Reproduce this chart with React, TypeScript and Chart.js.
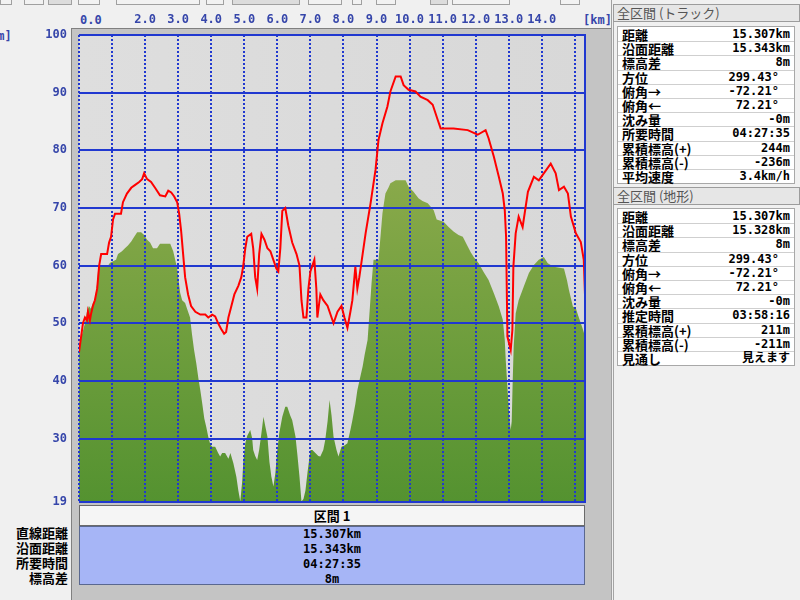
import React, { useEffect, useRef } from "react";
import { Chart, registerables } from "chart.js";
Chart.register(...registerables);

// ---- data (distance km / elevation m) ----
const trackKm = [0.0, 0.06, 0.12, 0.18, 0.24, 0.27, 0.33, 0.36, 0.42, 0.48, 0.55, 0.61, 0.67, 0.85, 0.91, 0.97, 1.03, 1.09, 1.27, 1.33, 1.45, 1.58, 1.7, 1.82, 1.91, 1.97, 2.06, 2.18, 2.3, 2.45, 2.61, 2.7, 2.79, 2.88, 2.97, 3.03, 3.09, 3.15, 3.21, 3.3, 3.39, 3.52, 3.67, 3.82, 3.91, 4.03, 4.12, 4.21, 4.3, 4.39, 4.45, 4.52, 4.61, 4.7, 4.82, 4.91, 4.97, 5.03, 5.09, 5.21, 5.27, 5.33, 5.39, 5.45, 5.52, 5.61, 5.7, 5.79, 5.88, 5.97, 6.03, 6.09, 6.15, 6.24, 6.33, 6.45, 6.58, 6.67, 6.73, 6.79, 6.88, 6.94, 7.0, 7.06, 7.12, 7.18, 7.21, 7.3, 7.39, 7.52, 7.64, 7.7, 7.82, 7.94, 8.03, 8.12, 8.21, 8.27, 8.36, 8.42, 8.48, 8.58, 8.67, 8.82, 8.97, 9.06, 9.18, 9.33, 9.42, 9.58, 9.73, 9.82, 9.97, 10.18, 10.33, 10.55, 10.7, 10.85, 10.94, 11.33, 11.76, 12.06, 12.3, 12.39, 12.55, 12.7, 12.82, 12.88, 12.92, 12.96, 13.06, 13.11, 13.14, 13.21, 13.3, 13.42, 13.58, 13.76, 13.91, 14.06, 14.27, 14.42, 14.52, 14.67, 14.79, 14.88, 15.03, 15.18, 15.27, 15.307];
const trackElev = [45, 47.5, 50, 51, 50.5, 52, 50.5, 51.5, 53, 54, 56, 60, 62, 62, 64, 65, 68, 69, 69, 71, 72.5, 73.5, 74, 74.5, 75, 76, 75, 74.5, 73.5, 72.2, 72, 73, 72.7, 72, 71, 69, 66, 62, 58, 55, 53, 52, 51.5, 51.5, 51, 51.5, 51.2, 50, 49, 48.2, 48.5, 51, 53, 55, 56.5, 58, 60, 63, 65, 65.5, 63, 58, 56, 62, 65.5, 64.5, 63, 62.5, 61, 59.5, 59, 63, 69.5, 70, 67, 64, 62, 60, 54, 51, 51, 56, 59, 60, 61, 56, 51, 55, 54, 53, 51, 50, 52, 53, 51, 49.2, 52, 54, 59.8, 56, 58, 62, 65.6, 70.8, 76.6, 81.8, 84.7, 87.6, 90.2, 92.8, 92.8, 91.3, 90.5, 90.2, 89.3, 88.7, 87.9, 85.3, 83.8, 83.8, 83.5, 82.7, 83.5, 82.1, 78.9, 75.4, 72.5, 69.6, 65, 47.7, 45.4, 48.8, 59.8, 65.6, 68.5, 66.7, 72.8, 75.4, 74.8, 76, 77.7, 76, 73.1, 73.7, 72.5, 68.5, 65.6, 64.1, 61, 55];

const terrainKm = [0.0, 0.09, 0.18, 0.24, 0.3, 0.36, 0.42, 0.48, 0.55, 0.58, 0.64, 0.88, 0.94, 1.12, 1.18, 1.3, 1.39, 1.48, 1.58, 1.67, 1.76, 1.88, 1.97, 2.06, 2.15, 2.24, 2.36, 2.45, 2.76, 2.85, 2.91, 2.97, 3.06, 3.12, 3.21, 3.3, 3.36, 3.42, 3.48, 3.55, 3.61, 3.67, 3.73, 3.79, 3.85, 3.91, 3.97, 4.03, 4.12, 4.21, 4.27, 4.33, 4.42, 4.52, 4.58, 4.67, 4.76, 4.82, 4.88, 4.94, 4.97, 5.03, 5.09, 5.18, 5.24, 5.27, 5.33, 5.39, 5.45, 5.52, 5.58, 5.64, 5.7, 5.76, 5.82, 5.88, 5.94, 6.0, 6.06, 6.15, 6.24, 6.3, 6.39, 6.45, 6.55, 6.61, 6.67, 6.73, 6.79, 6.85, 6.91, 7.0, 7.06, 7.15, 7.24, 7.3, 7.39, 7.45, 7.52, 7.58, 7.64, 7.7, 7.79, 7.85, 7.94, 8.03, 8.12, 8.21, 8.27, 8.36, 8.42, 8.52, 8.58, 8.64, 8.73, 8.79, 8.85, 8.91, 9.06, 9.12, 9.18, 9.27, 9.36, 9.42, 9.58, 9.88, 9.97, 10.12, 10.27, 10.39, 10.55, 10.73, 10.82, 11.03, 11.18, 11.33, 11.48, 11.61, 11.76, 11.85, 11.94, 12.09, 12.24, 12.39, 12.55, 12.7, 12.82, 12.88, 12.91, 12.97, 13.03, 13.06, 13.09, 13.12, 13.15, 13.21, 13.3, 13.45, 13.61, 13.76, 13.91, 14.06, 14.18, 14.36, 14.67, 14.76, 14.82, 14.94, 15.03, 15.09, 15.18, 15.24, 15.307];
const terrainElev = [46, 48, 50, 52, 53, 52.5, 53.5, 54, 57, 59.5, 60, 60, 60.5, 61, 62, 62.5, 63, 63.5, 64.2, 65, 65.8, 65.8, 65.3, 64.5, 64, 63, 63, 63.8, 63.8, 62.5, 61, 59.5, 55.3, 54, 53.5, 52, 51, 48, 45.4, 43, 40.5, 38.4, 36, 33.5, 32, 30.3, 29, 28.6, 28.6, 27.5, 26.9, 27.5, 27.5, 26.5, 27.5, 25.7, 23.4, 21, 19.1, 22.8, 26, 29.2, 30.5, 31.5, 30, 28, 27, 26.3, 28, 31, 33.8, 32, 30.3, 26, 23.4, 21.7, 24, 28, 31, 33.8, 35.5, 35.5, 34, 33.2, 30.3, 27, 23.4, 19.1, 19.5, 21, 24, 28, 28, 27.5, 27, 26.9, 28, 29.8, 33, 36.7, 34, 30.3, 28, 26.9, 28.6, 28.8, 29.2, 31.5, 33.2, 36, 38.4, 41, 42.5, 44.5, 47.1, 52, 57, 61, 61, 65, 69.1, 72.5, 73.5, 74.3, 74.8, 74.8, 73.7, 72.8, 71.7, 71.2, 70.8, 69.6, 68, 67.6, 66.7, 65.9, 65.3, 65, 63.3, 62.3, 61.5, 60.4, 58.9, 57.5, 55.2, 52.9, 50.6, 47.1, 43.6, 38, 33, 31.5, 33, 40, 46, 51.7, 54, 56.3, 58.7, 60.1, 61, 61.5, 60.4, 59.8, 59.5, 57.5, 55.8, 52.9, 52.6, 51.5, 50, 49, 47.7];

const xTicks = [0, 1, 2, 3, 4, 5, 6, 7, 8, 9, 10, 11, 12, 13, 14, 15];
const xLabelled = [2, 3, 4, 5, 6, 7, 8, 9, 10, 11, 12, 13, 14];
const yTicks = [19, 30, 40, 50, 60, 70, 80, 90, 100];
const xMax = 15.307;

const trackTitle = "全区間 (トラック)";
const trackLabels = ["距離", "沿面距離", "標高差", "方位", "俯角→", "俯角←", "沈み量", "所要時間", "累積標高(+)", "累積標高(-)", "平均速度"];
const trackValues = ["15.307km", "15.343km", "8m", "299.43°", "-72.21°", "72.21°", "-0m", "04:27:35", "244m", "-236m", "3.4km/h"];
const terrainTitle = "全区間 (地形)";
const terrainLabels = ["距離", "沿面距離", "標高差", "方位", "俯角→", "俯角←", "沈み量", "推定時間", "累積標高(+)", "累積標高(-)", "見通し"];
const terrainValues = ["15.307km", "15.328km", "8m", "299.43°", "-72.21°", "72.21°", "-0m", "03:58:16", "211m", "-211m", "見えます"];
const sectionTitle = "区間 1";
const sectionLabels = ["直線距離", "沿面距離", "所要時間", "標高差"];
const sectionValues = ["15.307km", "15.343km", "04:27:35", "8m"];

const BLUE = "#2038d0";
const TICK_BLUE = "#3646aa";
const MONO = '"DejaVu Sans Mono", "Noto Sans CJK JP", monospace';
const JP = '"Noto Sans CJK JP", sans-serif';

function InfoTable(props: { top: number; title: string; labels: string[]; values: string[]; titleTop: number }) {
  const rowH = 14.2;
  return (
    <>
      <div
        style={{
          position: "absolute",
          left: 613,
          top: props.titleTop,
          width: 182,
          height: 16,
          background: "#e6e6e6",
          border: "1px solid #9c9c9c",
          color: "#555",
          font: '13px "Noto Sans CJK JP", sans-serif',
          lineHeight: "16px",
          paddingLeft: 3,
          boxSizing: "content-box",
        }}
      >
        {props.title}
      </div>
      <div
        style={{
          position: "absolute",
          left: 617,
          top: props.top,
          width: 176,
          background: "#fff",
          border: "1px solid #a8a8a8",
        }}
      >
        {props.labels.map((l, i) => (
          <div
            key={i}
            style={{
              height: rowH,
              boxSizing: "border-box",
              borderTop: i ? "1px solid #cfcfcf" : "none",
              display: "flex",
              justifyContent: "space-between",
              alignItems: "center",
              padding: "0 4px",
              paddingRight: props.values[i].indexOf("°") >= 0 ? 15 : 4,
              color: "#000",
              lineHeight: "13px",
              whiteSpace: "nowrap",
            }}
          >
            <span style={{ font: "bold 13px " + JP, lineHeight: "13px" }}>{l}</span>
            <span style={{ font: "bold 12px " + MONO, lineHeight: "13px" }}>{props.values[i]}</span>
          </div>
        ))}
      </div>
    </>
  );
}

export default function App() {
  const ref = useRef<HTMLCanvasElement | null>(null);

  useEffect(() => {
    const canvas = ref.current;
    if (!canvas) return;
    const rightBorder = {
      id: "rightBorder",
      afterDraw(chart: any) {
        const a = chart.chartArea;
        const ctx = chart.ctx;
        ctx.save();
        ctx.strokeStyle = BLUE;
        ctx.lineWidth = 2;
        ctx.beginPath();
        ctx.moveTo(a.right, a.top - 1);
        ctx.lineTo(a.right, a.bottom + 1);
        ctx.stroke();
        ctx.restore();
      },
    };
    const chart = new Chart(canvas, {
      type: "line",
      data: {
        datasets: [
          {
            label: "track",
            data: trackKm.map((x, i) => ({ x, y: trackElev[i] })),
            borderColor: "#ff0000",
            borderWidth: 2,
            pointRadius: 0,
            fill: false,
            tension: 0,
            order: 0,
          },
          {
            label: "terrain",
            data: terrainKm.map((x, i) => ({ x, y: terrainElev[i] })),
            borderColor: "rgba(0,0,0,0)",
            borderWidth: 0,
            pointRadius: 0,
            fill: "start",
            tension: 0,
            order: 1,
            backgroundColor: (c: any) => {
              const area = c.chart.chartArea;
              if (!area) return "#6a9a3a";
              const g = c.chart.ctx.createLinearGradient(0, area.top + 120, 0, area.bottom);
              g.addColorStop(0, "#8dab4c");
              g.addColorStop(1, "#549230");
              return g;
            },
          },
        ],
      },
      options: {
        animation: false,
        responsive: false,
        maintainAspectRatio: false,
        events: [],
        layout: { padding: { left: 0, top: 0, right: 215, bottom: 98 } },
        plugins: {
          legend: { display: false },
          tooltip: { enabled: false },
          filler: { drawTime: "beforeDraw" },
        } as any,
        scales: {
          x: {
            type: "linear",
            position: "top",
            min: 0,
            max: xMax,
            afterBuildTicks: (s: any) => {
              s.ticks = xTicks.map((v) => ({ value: v }));
            },
            afterFit: (s: any) => {
              s.height = 35;
            },
            grid: { color: BLUE, lineWidth: 2, drawTicks: false },
            border: { display: false, dash: [2, 2] },
            ticks: {
              autoSkip: false,
              maxRotation: 0,
              padding: 8,
              color: TICK_BLUE,
              font: { family: MONO, size: 12, weight: "bold" },
              callback: (v: any) => (xLabelled.indexOf(Number(v)) >= 0 ? Number(v).toFixed(1) : ""),
            },
          },
          y: {
            type: "linear",
            position: "left",
            min: 19,
            max: 100,
            afterBuildTicks: (s: any) => {
              s.ticks = yTicks.map((v) => ({ value: v }));
            },
            afterFit: (s: any) => {
              s.width = 79;
            },
            grid: { color: BLUE, lineWidth: 2, drawTicks: false },
            border: { display: false },
            ticks: {
              autoSkip: false,
              padding: 12,
              color: TICK_BLUE,
              font: { family: MONO, size: 12, weight: "bold" },
            },
          },
        },
      },
      plugins: [rightBorder],
    } as any);
    return () => chart.destroy();
  }, []);

  const abs = (l: number, t: number, w: number, h: number, extra: any = {}) => ({
    position: "absolute" as const,
    left: l,
    top: t,
    width: w,
    height: h,
    boxSizing: "border-box" as const,
    ...extra,
  });

  const toolbar = [
    [0, 12], [24, 44], [48, 72], [78, 100], [116, 200], [206, 224], [232, 300], [308, 342], [352, 362], [376, 396], [430, 448], [452, 510], [560, 580],
  ];

  return (
    <div style={{ position: "absolute", left: 0, top: 0, width: 800, height: 600, overflow: "hidden", background: "#f0f0f0" }}>
      {toolbar.map((b, i) => (
        <div key={i} style={abs(b[0], -9, b[1] - b[0], 14, { background: i % 4 === 2 ? "#dcdcdc" : "#f2f2f2", border: "1px solid #a0a0a0" })} />
      ))}
      {/* gray frame around plot */}
      <div style={abs(71, 28, 541, 572, { background: "#c4c4c4", borderLeft: "1px solid #808080", borderTop: "1px solid #808080" })} />
      {/* plot background */}
      <div style={abs(79, 35, 506, 467, { background: "linear-gradient(90deg, #dedede, #d8d8d8)" })} />
      {/* unit labels */}
      <div style={{ position: "absolute", left: -10, top: 29, font: "bold 12px " + MONO, color: TICK_BLUE, whiteSpace: "nowrap" }}>[m]</div>
      <div style={{ position: "absolute", left: 80, top: 13, font: "bold 12px " + MONO, color: TICK_BLUE }}>0.0</div>
      <div style={{ position: "absolute", left: 583, top: 13, font: "bold 12px " + MONO, color: TICK_BLUE }}>[km]</div>
      {/* bottom section table */}
      <div
        style={abs(79, 505, 506, 21, {
          background: "#f5f5f5",
          border: "1px solid #6a6a6a",
          textAlign: "center",
          font: "bold 13px " + JP,
          lineHeight: "19px",
          color: "#000",
        })}
      >
        {sectionTitle}
      </div>
      <div
        style={abs(79, 526, 506, 59, {
          background: "#a6b5f6",
          border: "1px solid #5a6890",
          textAlign: "center",
          font: "bold 12px " + MONO,
          color: "#000",
        })}
      >
        {sectionValues.map((v, i) => (
          <div key={i} style={{ height: 15, lineHeight: "14px" }}>{v}</div>
        ))}
      </div>
      <div style={abs(0, 526, 68, 60, { textAlign: "right", font: "bold 13px " + JP, color: "#000" })}>
        {sectionLabels.map((v, i) => (
          <div key={i} style={{ height: 15, lineHeight: "14px" }}>{v}</div>
        ))}
      </div>
      {/* right panel */}
      <div style={abs(611, 0, 189, 600, { background: "#f0f0f0", borderLeft: "1px solid #a0a0a0" })} />
      <div style={abs(613, 21, 184, 579, { borderLeft: "1px solid #a4a4a4" })} />
      <InfoTable titleTop={4} top={26} title={trackTitle} labels={trackLabels} values={trackValues} />
      <InfoTable titleTop={187} top={208} title={terrainTitle} labels={terrainLabels} values={terrainValues} />
      <canvas ref={ref} width={800} height={600} style={{ position: "absolute", left: 0, top: 0, width: 800, height: 600, pointerEvents: "none" }} />
    </div>
  );
}
